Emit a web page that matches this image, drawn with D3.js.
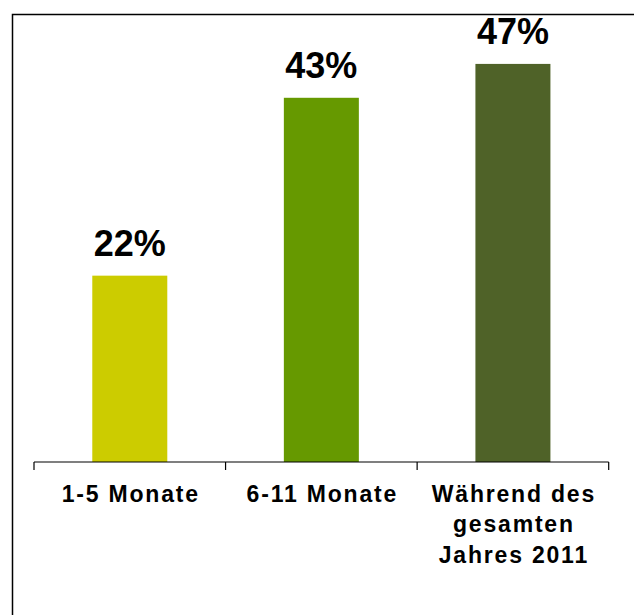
<!DOCTYPE html>
<html>
<head>
<meta charset="utf-8">
<script src="https://cdn.jsdelivr.net/npm/d3@7"></script>
<style>
body { margin: 0; background: #fff; }
text { font-family: "Liberation Sans", Arial, sans-serif; font-weight: bold; }
</style>
</head>
<body>
<script>
var w = 634;
var h = 615;

// data
var categories = ["1-5 Monate", "6-11 Monate", "Während des gesamten Jahres 2011"];
var labelLines = [["1-5 Monate"], ["6-11 Monate"], ["Während des", "gesamten", "Jahres 2011"]];
var values = [22, 43, 47];
var colors = ["#cccc00", "#669900", "#4f6228"];

var svg = d3.select("body").append("svg")
          .attr("width", w)
          .attr("height", h);

// frame (top and left only)
svg.append("path")
   .attr("d", "M12.5," + h + "V14.5H" + w)
   .attr("fill", "none")
   .attr("stroke", "black")
   .attr("stroke-width", 1.5);

var x = d3.scaleBand()
          .domain(categories)
          .range([34, 608.7]);

var y = d3.scaleLinear()
          .domain([0, 50])
          .range([462, 38.5]);

var barW = 75;

// bars
svg.selectAll("rect.bar")
   .data(values)
   .enter().append("rect")
   .attr("class", "bar")
   .attr("x", function(d, i) { return x(categories[i]) + x.bandwidth() / 2 - barW / 2; })
   .attr("y", function(d) { return y(d); })
   .attr("width", barW)
   .attr("height", function(d) { return y(0) - y(d); })
   .attr("fill", function(d, i) { return colors[i]; });

// value labels
svg.selectAll("text.val")
   .data(values)
   .enter().append("text")
   .attr("class", "val")
   .attr("x", function(d, i) { return x(categories[i]) + x.bandwidth() / 2; })
   .attr("y", function(d) { return y(d) - 20; })
   .attr("text-anchor", "middle")
   .attr("font-size", 36)
   .text(function(d) { return d + "%"; });

// axis line and ticks between categories
var base = y(0);
svg.append("line")
   .attr("x1", x.range()[0]).attr("x2", x.range()[1])
   .attr("y1", base).attr("y2", base)
   .attr("stroke", "black").attr("stroke-width", 1.2);

var tickX = categories.map(function(c) { return x(c); }).concat([x.range()[1]]);
svg.selectAll("line.tick")
   .data(tickX)
   .enter().append("line")
   .attr("class", "tick")
   .attr("x1", function(d) { return d; }).attr("x2", function(d) { return d; })
   .attr("y1", base).attr("y2", base + 8)
   .attr("stroke", "black").attr("stroke-width", 1.2);

// category labels
var lab = svg.selectAll("text.cat")
   .data(labelLines)
   .enter().append("text")
   .attr("class", "cat")
   .attr("text-anchor", "middle")
   .attr("font-size", 23)
   .attr("letter-spacing", 1.8)
   .attr("y", 501.5);

lab.selectAll("tspan")
   .data(function(d, i) { return d.map(function(s) { return { s: s, i: i }; }); })
   .enter().append("tspan")
   .attr("x", function(d) { return x(categories[d.i]) + x.bandwidth() / 2 + 1; })
   .attr("dy", function(d, j) { return j === 0 ? 0 : 30.5; })
   .text(function(d) { return d.s; });
</script>
</body>
</html>
